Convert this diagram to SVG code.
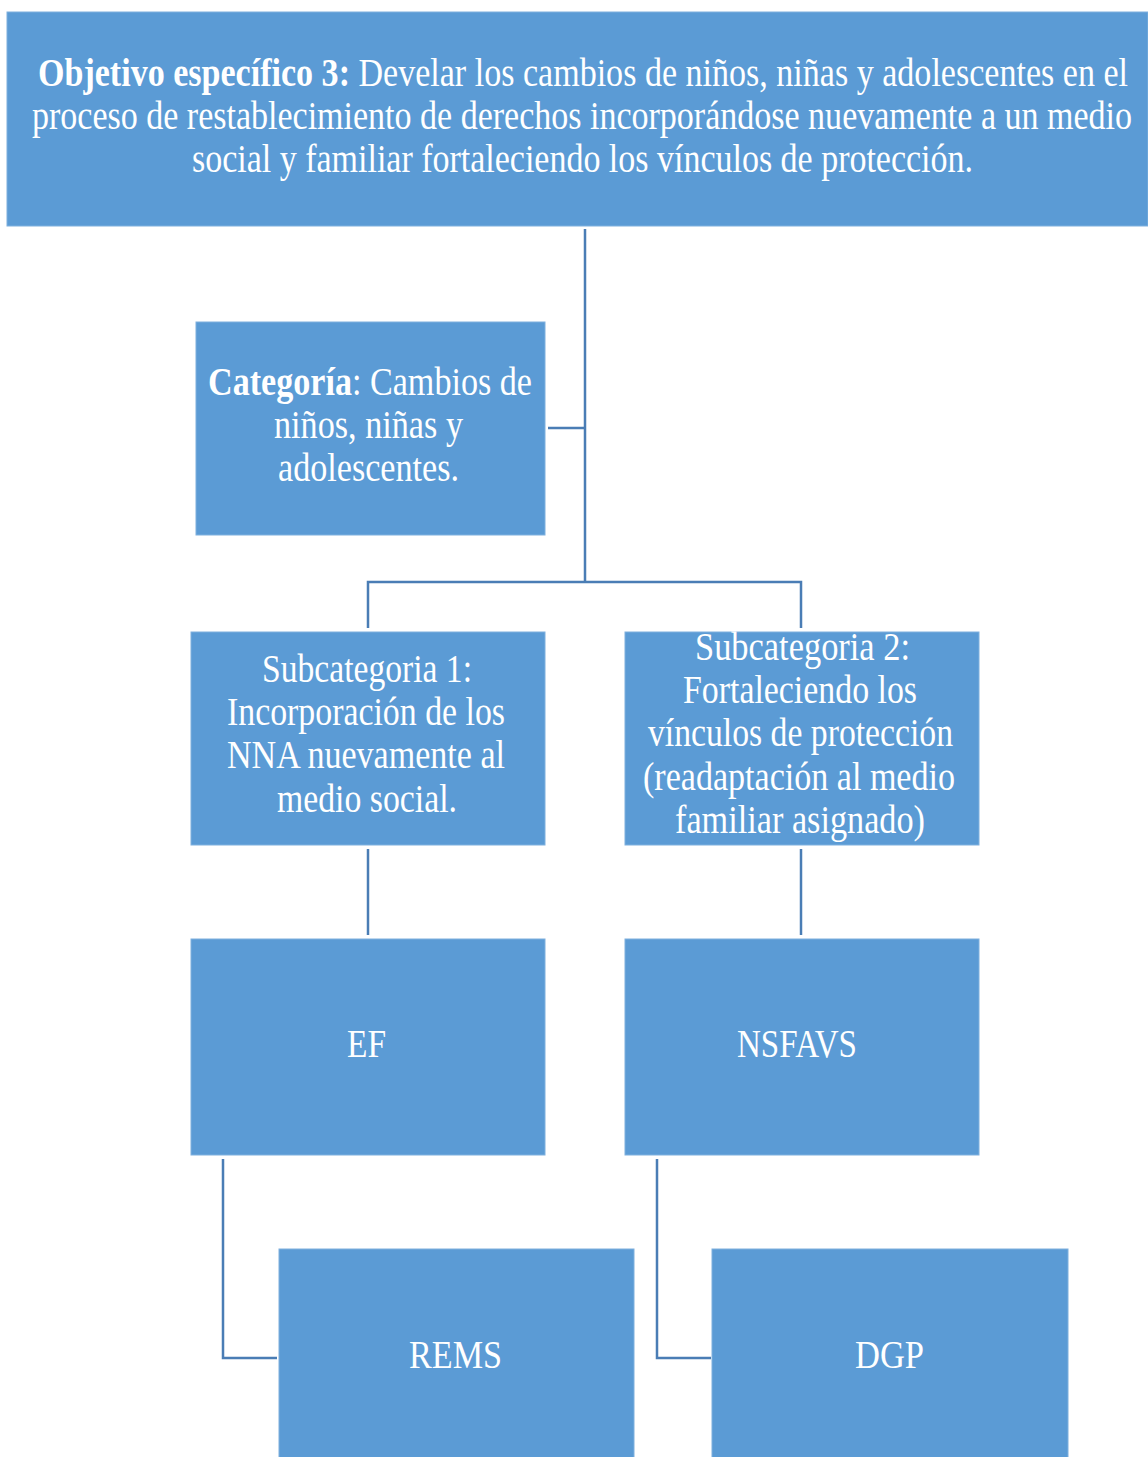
<svg xmlns="http://www.w3.org/2000/svg" width="1148" height="1457" viewBox="0 0 1148 1457">
<style>
.box{fill:#5B9BD5;stroke:#7FB0DE;stroke-width:1}
.t{font-family:"Liberation Serif","Times New Roman",serif;font-size:40px;fill:#FFFFFF}
.b{font-weight:bold}
.conn{fill:none;stroke:#4A7DB5;stroke-width:2.5}
</style>
<rect x="0" y="0" width="1148" height="1457" fill="#FFFFFF"/>
<g id="connectors">
<path class="conn" d="M585,229 V582"/>
<path class="conn" d="M548,428 H585"/>
<path class="conn" d="M368,628 V582 H801 V628"/>
<path class="conn" d="M368,849 V935"/>
<path class="conn" d="M801,849 V935"/>
<path class="conn" d="M223,1159 V1358 H277"/>
<path class="conn" d="M657,1159 V1358 H711"/>
</g>
<g id="objetivo">
<rect class="box" x="7" y="12" width="1141" height="214"/>
<text class="t" x="38" y="86" textLength="1090" lengthAdjust="spacingAndGlyphs"><tspan class="b">Objetivo específico 3:</tspan> Develar los cambios de niños, niñas y adolescentes en el</text>
<text class="t" x="32" y="129" textLength="1100" lengthAdjust="spacingAndGlyphs">proceso de restablecimiento de derechos incorporándose nuevamente a un medio</text>
<text class="t" x="192" y="172" textLength="781" lengthAdjust="spacingAndGlyphs">social y familiar fortaleciendo los vínculos de protección.</text>
</g>
<g id="categoria">
<rect class="box" x="196" y="322" width="349" height="213"/>
<text class="t" x="208" y="395" textLength="324" lengthAdjust="spacingAndGlyphs"><tspan class="b">Categoría</tspan>: Cambios de</text>
<text class="t" x="274" y="438" textLength="189" lengthAdjust="spacingAndGlyphs">niños, niñas y</text>
<text class="t" x="278" y="481" textLength="181" lengthAdjust="spacingAndGlyphs">adolescentes.</text>
</g>
<g id="subcategoria1">
<rect class="box" x="191" y="632" width="354" height="213"/>
<text class="t" x="262" y="682" textLength="210" lengthAdjust="spacingAndGlyphs">Subcategoria 1:</text>
<text class="t" x="227" y="725" textLength="278" lengthAdjust="spacingAndGlyphs">Incorporación de los</text>
<text class="t" x="227" y="768" textLength="278" lengthAdjust="spacingAndGlyphs">NNA nuevamente al</text>
<text class="t" x="277" y="812" textLength="180" lengthAdjust="spacingAndGlyphs">medio social.</text>
</g>
<g id="subcategoria2">
<rect class="box" x="625" y="632" width="354" height="213"/>
<text class="t" x="695" y="660" textLength="215" lengthAdjust="spacingAndGlyphs">Subcategoria 2:</text>
<text class="t" x="683" y="703" textLength="234" lengthAdjust="spacingAndGlyphs">Fortaleciendo los</text>
<text class="t" x="648" y="746" textLength="305" lengthAdjust="spacingAndGlyphs">vínculos de protección</text>
<text class="t" x="643" y="790" textLength="312" lengthAdjust="spacingAndGlyphs">(readaptación al medio</text>
<text class="t" x="675" y="833" textLength="250" lengthAdjust="spacingAndGlyphs">familiar asignado)</text>
</g>
<g id="ef">
<rect class="box" x="191" y="939" width="354" height="216"/>
<text class="t" x="347" y="1057" textLength="39" lengthAdjust="spacingAndGlyphs">EF</text>
</g>
<g id="nsfavs">
<rect class="box" x="625" y="939" width="354" height="216"/>
<text class="t" x="737" y="1057" textLength="120" lengthAdjust="spacingAndGlyphs">NSFAVS</text>
</g>
<g id="rems">
<rect class="box" x="279" y="1249" width="355" height="215"/>
<text class="t" x="409" y="1368" textLength="93" lengthAdjust="spacingAndGlyphs">REMS</text>
</g>
<g id="dgp">
<rect class="box" x="712" y="1249" width="356" height="215"/>
<text class="t" x="855" y="1368" textLength="69" lengthAdjust="spacingAndGlyphs">DGP</text>
</g>
</svg>
